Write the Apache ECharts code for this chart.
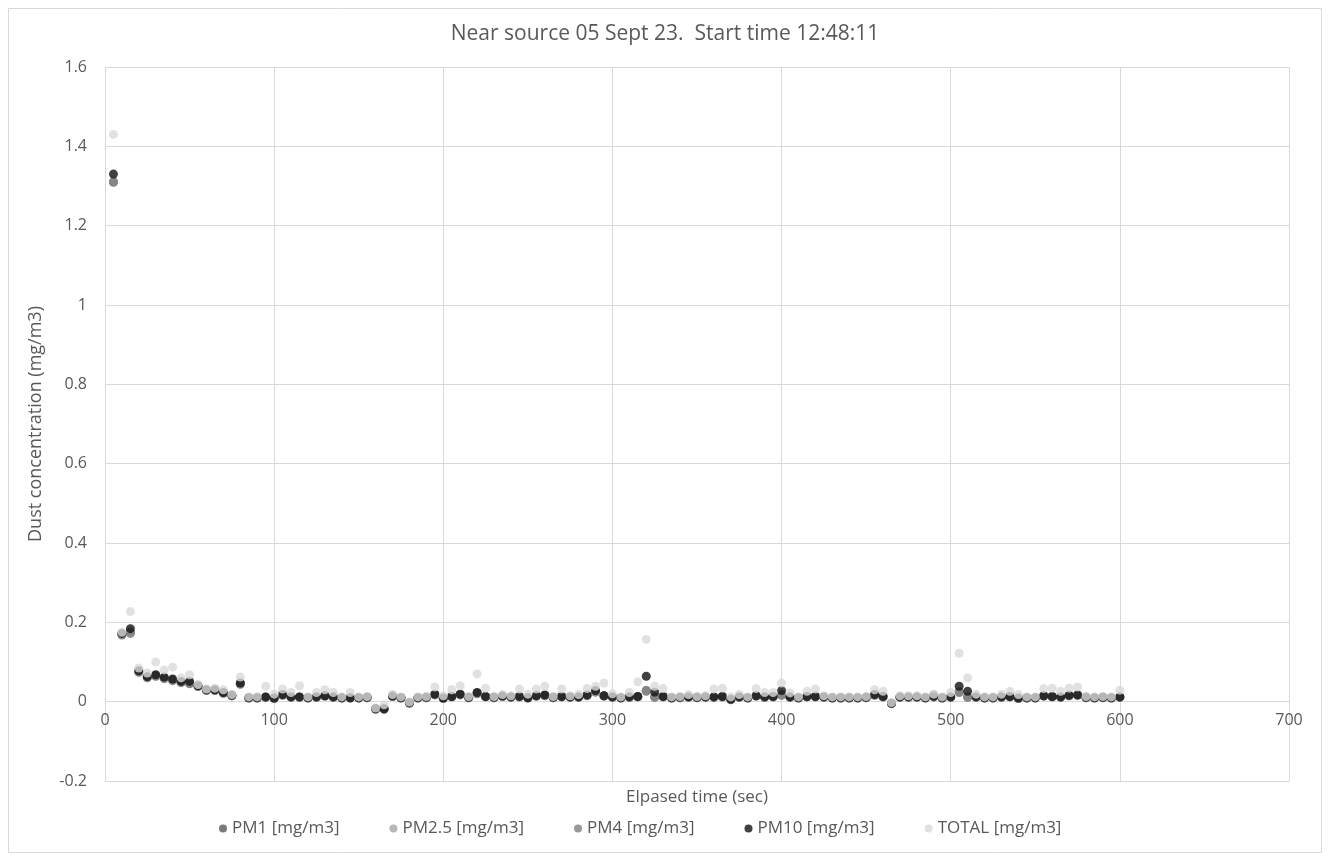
<!DOCTYPE html>
<html>
<head>
<meta charset="utf-8">
<script src="https://cdn.jsdelivr.net/npm/echarts@6/dist/echarts.min.js"></script>
<style>
html,body{margin:0;padding:0;background:#fff;}
#chart{width:1330px;height:864px;}
</style>
</head>
<body>
<div id="chart"></div>
<script>
const titleText = 'Near source 05 Sept 23.  Start time 12:48:11';
const xAxisName = 'Elpased time (sec)';
const yAxisName = 'Dust concentration (mg/m3)';
const seriesNames = ['PM1 [mg/m3]', 'PM2.5 [mg/m3]', 'PM4 [mg/m3]', 'PM10 [mg/m3]', 'TOTAL [mg/m3]'];

const times = [5,10,15,20,25,30,35,40,45,50,55,60,65,70,75,80,85,90,95,100,
105,110,115,120,125,130,135,140,145,150,155,160,165,170,175,180,185,190,195,200,
205,210,215,220,225,230,235,240,245,250,255,260,265,270,275,280,285,290,295,300,
305,310,315,320,325,330,335,340,345,350,355,360,365,370,375,380,385,390,395,400,
405,410,415,420,425,430,435,440,445,450,455,460,465,470,475,480,485,490,495,500,
505,510,515,520,525,530,535,540,545,550,555,560,565,570,575,580,585,590,595,600];

const pm1 = [1.31,0.168,0.172,0.074,0.060,0.064,0.058,0.053,0.048,0.046,0.038,0.028,0.028,0.021,0.015,0.044,0.009,0.009,0.011,0.008,
0.016,0.011,0.011,0.009,0.011,0.014,0.011,0.009,0.009,0.009,0.010,-0.019,-0.019,0.013,0.009,-0.004,0.009,0.010,0.017,0.008,
0.012,0.017,0.010,0.020,0.012,0.010,0.013,0.011,0.012,0.009,0.014,0.015,0.010,0.012,0.011,0.011,0.015,0.024,0.014,0.011,
0.009,0.011,0.012,0.026,0.011,0.012,0.009,0.010,0.011,0.010,0.011,0.011,0.012,0.005,0.011,0.009,0.014,0.011,0.012,0.016,
0.011,0.009,0.012,0.012,0.011,0.009,0.009,0.009,0.009,0.010,0.016,0.012,-0.005,0.011,0.011,0.011,0.009,0.015,0.009,0.011,
0.023,0.011,0.011,0.009,0.009,0.011,0.012,0.008,0.009,0.009,0.014,0.012,0.011,0.015,0.016,0.010,0.009,0.010,0.009,0.011];

const pm25 = [1.31,0.170,0.174,0.075,0.061,0.065,0.059,0.054,0.049,0.047,0.039,0.029,0.029,0.022,0.015,0.045,0.009,0.009,0.011,0.008,
0.017,0.011,0.011,0.009,0.011,0.014,0.011,0.009,0.009,0.009,0.010,-0.018,-0.019,0.013,0.009,-0.003,0.009,0.010,0.018,0.008,
0.012,0.018,0.010,0.021,0.012,0.010,0.013,0.011,0.012,0.009,0.014,0.016,0.010,0.012,0.011,0.012,0.016,0.026,0.014,0.011,
0.009,0.011,0.012,0.028,0.012,0.012,0.009,0.010,0.011,0.010,0.011,0.011,0.012,0.005,0.011,0.009,0.014,0.011,0.012,0.017,
0.011,0.009,0.012,0.012,0.011,0.009,0.009,0.009,0.009,0.010,0.017,0.012,-0.004,0.011,0.011,0.011,0.009,0.016,0.009,0.011,
0.024,0.012,0.011,0.009,0.009,0.011,0.012,0.008,0.009,0.009,0.014,0.012,0.011,0.015,0.016,0.010,0.009,0.010,0.009,0.011];

const pm4 = [1.31,0.171,0.176,0.076,0.062,0.066,0.060,0.055,0.050,0.045,0.039,0.029,0.029,0.022,0.016,0.046,0.010,0.010,0.011,0.009,
0.017,0.012,0.011,0.010,0.012,0.015,0.012,0.010,0.010,0.010,0.011,-0.018,-0.018,0.014,0.010,-0.003,0.010,0.011,0.018,0.009,
0.013,0.018,0.011,0.022,0.013,0.011,0.014,0.012,0.013,0.010,0.015,0.016,0.011,0.013,0.012,0.012,0.016,0.026,0.015,0.012,
0.010,0.012,0.013,0.029,0.012,0.013,0.010,0.011,0.012,0.011,0.012,0.012,0.013,0.006,0.012,0.010,0.015,0.012,0.013,0.018,
0.012,0.010,0.013,0.013,0.012,0.010,0.010,0.010,0.010,0.011,0.017,0.013,-0.004,0.012,0.012,0.012,0.010,0.017,0.010,0.012,
0.025,0.012,0.012,0.010,0.010,0.012,0.013,0.009,0.010,0.010,0.015,0.013,0.012,0.016,0.017,0.011,0.010,0.011,0.010,0.012];

const pm10 = [1.33,0.172,0.184,0.078,0.063,0.068,0.062,0.057,0.051,0.051,0.040,0.030,0.030,0.023,0.016,0.047,0.010,0.010,0.012,0.009,
0.018,0.012,0.012,0.010,0.012,0.015,0.012,0.010,0.010,0.010,0.011,-0.018,-0.018,0.014,0.010,-0.003,0.010,0.011,0.019,0.009,
0.013,0.019,0.011,0.023,0.013,0.011,0.014,0.012,0.013,0.010,0.015,0.017,0.011,0.013,0.012,0.012,0.017,0.028,0.015,0.012,
0.010,0.012,0.013,0.064,0.024,0.013,0.010,0.011,0.012,0.011,0.012,0.012,0.013,0.006,0.012,0.010,0.015,0.012,0.013,0.028,
0.012,0.010,0.013,0.013,0.012,0.010,0.010,0.010,0.010,0.011,0.018,0.013,-0.004,0.012,0.012,0.012,0.010,0.012,0.010,0.012,
0.039,0.026,0.012,0.010,0.010,0.012,0.013,0.009,0.010,0.010,0.015,0.013,0.012,0.016,0.017,0.011,0.010,0.011,0.010,0.012];

const total = [1.43,0.175,0.227,0.085,0.072,0.100,0.080,0.087,0.060,0.068,0.043,0.032,0.034,0.030,0.018,0.062,0.012,0.012,0.039,0.019,
0.032,0.023,0.040,0.012,0.023,0.030,0.023,0.012,0.023,0.012,0.013,-0.016,-0.008,0.018,0.012,-0.001,0.012,0.013,0.037,0.015,
0.030,0.040,0.013,0.070,0.034,0.013,0.018,0.015,0.032,0.019,0.032,0.039,0.013,0.032,0.015,0.018,0.033,0.039,0.047,0.020,
0.012,0.023,0.050,0.157,0.039,0.033,0.012,0.013,0.018,0.013,0.015,0.032,0.034,0.012,0.018,0.012,0.033,0.023,0.023,0.047,
0.022,0.012,0.026,0.032,0.015,0.012,0.012,0.012,0.012,0.013,0.030,0.026,-0.002,0.015,0.015,0.015,0.012,0.019,0.012,0.023,
0.122,0.060,0.019,0.012,0.012,0.019,0.026,0.018,0.012,0.012,0.033,0.034,0.026,0.034,0.037,0.013,0.012,0.013,0.012,0.029];

const yTickLabels = ['-0.2','0','0.2','0.4','0.6','0.8','1','1.2','1.4','1.6'];
const xTickLabels = ['0','100','200','300','400','500','600','700'];

const colors = ['#595959', '#a5a5a5', '#7f7f7f', '#111111', '#d9d9d9'];
const seriesData = [pm1, pm25, pm4, pm10, total];

function pairs(arr) { return times.map((t, i) => [t, arr[i]]); }

const FONT = 'Open Sans';
const chart = echarts.init(document.getElementById('chart'), null, {renderer: 'canvas'});
chart.setOption({
  backgroundColor: '#ffffff',
  animation: false,
  color: colors,
  title: {
    text: titleText,
    left: 'center',
    top: 19,
    textStyle: {fontFamily: FONT, fontSize: 21, fontWeight: 'normal', color: '#595959'}
  },
  legend: {
    bottom: 22,
    left: 214,
    itemGap: 50,
    itemWidth: 8,
    itemHeight: 8,
    icon: 'circle',
    textStyle: {fontFamily: FONT, fontSize: 17, color: '#595959'},
    data: seriesNames
  },
  grid: {left: 105, right: 41, top: 67, bottom: 83, containLabel: false, outerBoundsMode: 'none'},
  xAxis: {
    type: 'value',
    min: 0, max: 700, interval: 100,
    name: xAxisName,
    nameLocation: 'middle',
    nameGap: 8,
    nameTextStyle: {fontFamily: FONT, fontSize: 17, color: '#595959', verticalAlign: 'top'},
    axisLine: {onZero: false, lineStyle: {color: '#d9d9d9', width: 1}},
    axisTick: {show: false},
    axisLabel: {fontFamily: FONT, fontSize: 16, color: '#595959', margin: -69,
      formatter: (v) => xTickLabels[Math.round(v / 100)]},
    splitLine: {show: true, lineStyle: {color: '#d9d9d9', width: 1}}
  },
  yAxis: {
    type: 'value',
    min: -0.2, max: 1.6, interval: 0.2,
    name: yAxisName,
    nameLocation: 'middle',
    nameGap: 60,
    nameTextStyle: {fontFamily: FONT, fontSize: 18, color: '#595959'},
    axisLine: {show: true, onZero: false, lineStyle: {color: '#d9d9d9'}},
    axisTick: {show: false},
    axisLabel: {fontFamily: FONT, fontSize: 16, color: '#595959', margin: 18,
      formatter: (v) => yTickLabels[Math.round((v + 0.2) / 0.2)]},
    splitLine: {show: true, lineStyle: {color: '#d9d9d9', width: 1}}
  },
  graphic: [{
    type: 'rect',
    shape: {x: 8.5, y: 8.5, width: 1313, height: 844},
    style: {fill: 'none', stroke: '#d9d9d9', lineWidth: 1},
    silent: true, z: -10
  }],
  series: seriesNames.map((n, i) => ({
    name: n,
    type: 'scatter',
    symbol: 'circle',
    symbolSize: 9,
    itemStyle: {color: colors[i]},
    data: pairs(seriesData[i]),
    z: 2 + i
  }))
});
</script>
</body>
</html>
